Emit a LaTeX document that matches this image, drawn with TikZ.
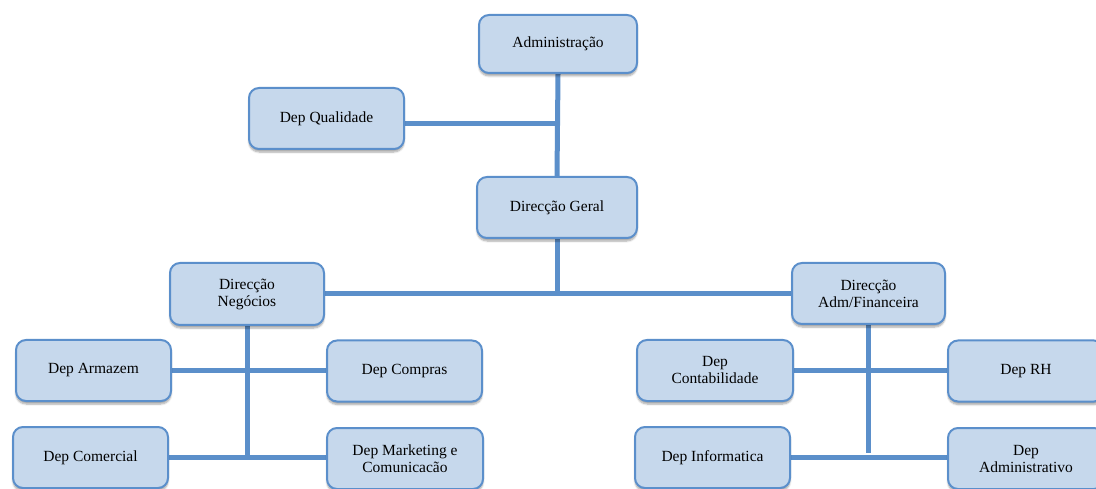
\documentclass[tikz,border=0pt]{standalone}
\usepackage{fontspec}
\setmainfont{Liberation Serif}
\usetikzlibrary{shadows.blur,backgrounds,calc}
\definecolor{boxfill}{HTML}{C6D8EC}
\definecolor{boxedge}{HTML}{5B8FCB}
\definecolor{linkblue}{HTML}{5B8FCA}
\tikzset{
  unit/.style={draw=boxedge, line width=2pt, fill=boxfill, rounded corners=10pt,
    minimum width=155pt, minimum height=61pt, inner sep=2pt, align=center,
    font=\fontsize{15.5}{17}\selectfont,
    blur shadow={shadow xshift=0pt, shadow yshift=-3pt, shadow blur steps=6, shadow opacity=35}},
  link/.style={draw=linkblue, line width=5pt}
}
\begin{document}
\begin{tikzpicture}[x=1pt,y=-1pt]
\useasboundingbox (0,0) rectangle (1096,489);

% top of the hierarchy
\node[unit, minimum width=158pt, minimum height=58pt] (adm) at (558,44) {Administração};
\node[unit] (qual) at (326.5,118.5) {Dep Qualidade};
\node[unit, minimum width=160pt] (geral) at (557,207.5) {Direcção Geral};

% directorates
\node[unit, minimum width=154pt, minimum height=62pt] (neg) at (247,294) {Direcção\\Negócios};
\node[unit, minimum width=153pt] (fin) at (868.5,293.5) {Direcção\\Adm/Financeira};

% business departments
\node[unit] (armazem) at (93.5,370.5) {Dep Armazem};
\node[unit] (compras) at (404.5,371) {Dep Compras};
\node[unit] (comercial) at (90.5,457.5) {Dep Comercial};
\node[unit, minimum width=156pt] (marketing) at (405,458.5) {Dep Marketing e\\Comunicacão};

% administrative / financial departments
\node[unit, minimum width=156pt] (contab) at (715,370.5) {Dep\\Contabilidade};
\node[unit, minimum width=156pt] (rh) at (1026,371) {Dep RH};
\node[unit] (info) at (712.5,457.5) {Dep Informatica};
\node[unit, minimum width=156pt] (admin) at (1026,458.5) {Dep\\Administrativo};

\coordinate (finEnd) at ($(fin.south)+(0,128)$);

\begin{scope}[on background layer]
  \draw[link] (adm.south) -- (geral.north);
  \draw[link] ([yshift=-5pt]qual.east) -- ([yshift=-5pt]qual.east -| adm.south);
  \draw[link] (geral.south) -- (geral.south |- neg.east);
  \draw[link] (neg.east) -- (neg.east -| fin.west);
  % business branch
  \draw[link] (neg.south) -- (neg.south |- comercial.east);
  \draw[link] (armazem.east) -- (armazem.east -| compras.west);
  \draw[link] (comercial.east) -- (comercial.east -| marketing.west);
  % administrative branch
  \draw[link] (fin.south) -- (finEnd);
  \draw[link] (contab.east) -- (contab.east -| rh.west);
  \draw[link] (info.east) -- (info.east -| admin.west);
\end{scope}
\end{tikzpicture}
\end{document}
